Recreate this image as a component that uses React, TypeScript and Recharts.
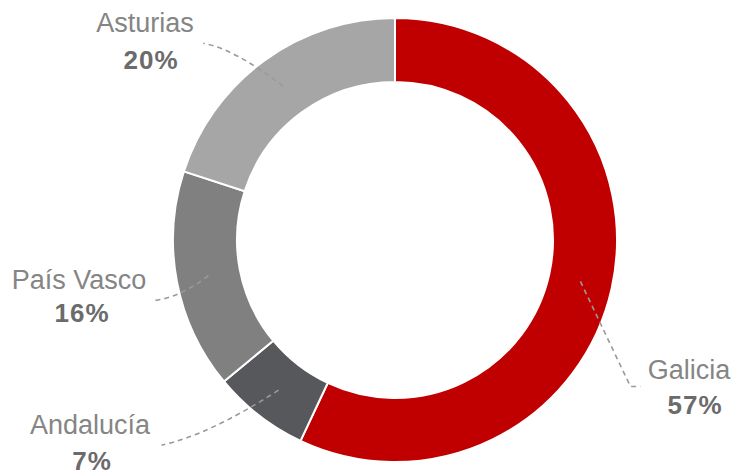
import { Cell, Pie, PieChart } from "recharts";

const regions = ["Galicia", "Andalucía", "País Vasco", "Asturias"];
const shares = [57, 7, 16, 20];
const colors = ["#C00000", "#57585B", "#808080", "#A6A6A6"];

const data = regions.map((name, i) => ({ name, value: shares[i] }));

// label placement, relative to the pie centre
const labelLayout: Record<string, { name: [number, number]; pct: [number, number]; path: (s: [number, number]) => string }> = {
  Asturias: {
    name: [-250, -208],
    pct: [-244, -171],
    path: ([x, y]) => `M${x},${y} Q${x - 50},${y - 38} ${x - 80},${y - 43}`,
  },
  "País Vasco": {
    name: [-316, 49],
    pct: [-313, 82],
    path: ([x, y]) => `M${x},${y} Q${x - 28},${y + 22} ${x - 55},${y + 25}`,
  },
  Andalucía: {
    name: [-305, 194],
    pct: [-303, 230],
    path: ([x, y]) => `M${x},${y} Q${x - 70},${y + 45} ${x - 117},${y + 55}`,
  },
  Galicia: {
    name: [294, 139],
    pct: [300, 174],
    path: ([x, y]) => `M${x},${y} L${x + 50},${y + 105} L${x + 60},${y + 105}`,
  },
};

const RAD = Math.PI / 180;

function renderLabel(props: any) {
  const { cx, cy, midAngle, name, value } = props;
  const layout = labelLayout[name];
  if (!layout) return null;
  const r = 190;
  const start: [number, number] = [cx + r * Math.cos(-midAngle * RAD), cy + r * Math.sin(-midAngle * RAD)];
  return (
    <g>
      <path d={layout.path(start)} fill="none" stroke="#9a9a9a" strokeWidth={1.6} strokeDasharray="5 4" />
      <text x={cx + layout.name[0]} y={cy + layout.name[1]} textAnchor="middle" fill="#858585" fontSize={27}>
        {name}
      </text>
      <text
        x={cx + layout.pct[0]}
        y={cy + layout.pct[1]}
        textAnchor="middle"
        fill="#6b6b6b"
        fontSize={26}
        fontWeight={700}
        letterSpacing={1}
      >
        {value}%
      </text>
    </g>
  );
}

export default function App() {
  return (
    <div style={{ position: "absolute", left: 0, top: 0, background: "#fff" }}>
      <PieChart
        width={733}
        height={476}
        margin={{ top: 0, right: 0, bottom: 0, left: 0 }}
        style={{ fontFamily: "'Liberation Sans', Arial, sans-serif" }}
      >
        <Pie
          data={data}
          dataKey="value"
          nameKey="name"
          cx={395}
          cy={240}
          innerRadius={158}
          outerRadius={222}
          startAngle={90}
          endAngle={-270}
          stroke="#ffffff"
          strokeWidth={2}
          label={renderLabel}
          labelLine={false}
          isAnimationActive={false}
        >
          {data.map((d, i) => (
            <Cell key={d.name} fill={colors[i]} />
          ))}
        </Pie>
      </PieChart>
    </div>
  );
}
